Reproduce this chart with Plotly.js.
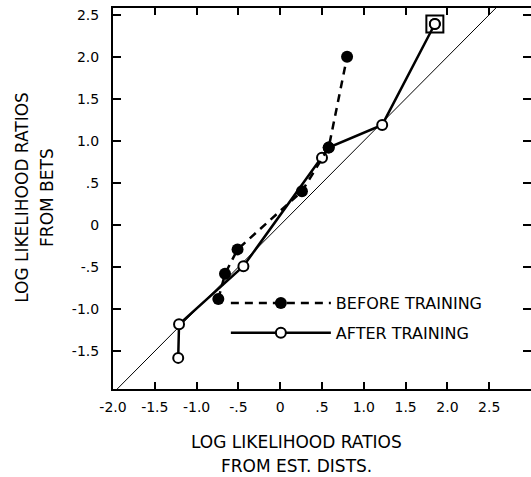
<!DOCTYPE html>
<html>
<head>
<meta charset="utf-8">
<script src="https://cdn.plot.ly/plotly-3.0.1.min.js"></script>
<style>html,body{margin:0;padding:0;background:#fff;}#chart{width:531px;height:477px;}</style>
</head>
<body>
<div id="chart"></div>
<script>
// Data
const beforeX = [-0.74, -0.66, -0.51, 0.26, 0.58, 0.80];
const beforeY = [-0.88, -0.58, -0.29, 0.40, 0.92, 2.00];
const afterX = [-1.22, -1.21, -0.44, 0.50, 0.58, 1.22, 1.85];
const afterY = [-1.58, -1.18, -0.49, 0.80, 0.92, 1.19, 2.39];
const identityX = [-2, 3];
const identityY = [-2, 3];
const xTickVals = [-2.0, -1.5, -1.0, -0.5, 0, 0.5, 1.0, 1.5, 2.0, 2.5];
const xTickText = ["-2.0", "-1.5", "-1.0", "-.5", "0", ".5", "1.0", "1.5", "2.0", "2.5"];
const yTickVals = [2.5, 2.0, 1.5, 1.0, 0.5, 0, -0.5, -1.0, -1.5];
const yTickText = ["2.5", "2.0", "1.5", "1.0", ".5", "0", "-.5", "-1.0", "-1.5"];

const FONT = "DejaVu Sans, sans-serif";
const last = afterX.length - 1;

const traces = [
  {x: identityX, y: identityY, mode: "lines", line: {color: "#000", width: 1}, showlegend: false, hoverinfo: "skip"},
  {x: afterX, y: afterY, mode: "lines+markers", name: "AFTER TRAINING", legendrank: 2, legendgroup: "a",
   line: {color: "#000", width: 2.5},
   marker: {symbol: "circle", size: 10, color: "#fff", line: {color: "#000", width: 2}}},
  {x: beforeX, y: beforeY, mode: "lines+markers", name: "BEFORE TRAINING", legendrank: 1, legendgroup: "b",
   line: {color: "#000", width: 2.5, dash: "8px,6px"},
   marker: {symbol: "circle", size: 12, color: "#000"}},
  {x: [afterX[last]], y: [afterY[last]], mode: "markers", showlegend: false,
   marker: {symbol: "square-open", size: 17, color: "#000", line: {color: "#000", width: 2}}},
  {x: [afterX[last]], y: [afterY[last]], mode: "markers", showlegend: false,
   marker: {symbol: "circle", size: 10, color: "#fff", line: {color: "#000", width: 2}}}
];

const layout = {
  width: 531, height: 477,
  margin: {l: 113, r: 0, t: 8, b: 88},
  paper_bgcolor: "#fff", plot_bgcolor: "#fff",
  font: {family: FONT, color: "#000", size: 14},
  showlegend: true,
  legend: {x: 0.27, y: 0.27, xanchor: "left", yanchor: "top", bgcolor: "rgba(0,0,0,0)",
           font: {family: FONT, size: 16, color: "#000"}, itemwidth: 100, tracegroupgap: 6},
  xaxis: {range: [-2, 3], tickvals: xTickVals, ticktext: xTickText, ticks: "inside", ticklen: 7,
          tickwidth: 2, tickcolor: "#000", showline: true, linecolor: "#000", linewidth: 2,
          mirror: "ticks", showgrid: false, zeroline: false, tickfont: {family: FONT, size: 14},
          ticklabelstandoff: 4},
  yaxis: {range: [-1.95, 2.58], tickvals: yTickVals, ticktext: yTickText, ticks: "inside", ticklen: 8,
          tickwidth: 2, tickcolor: "#000", showline: true, linecolor: "#000", linewidth: 2,
          mirror: "ticks", showgrid: false, zeroline: false, tickfont: {family: FONT, size: 14},
          ticklabelstandoff: 9},
  annotations: [
    {text: "LOG LIKELIHOOD RATIOS", xref: "paper", yref: "paper", x: 0.438, y: -0.138, showarrow: false,
     xanchor: "center", yanchor: "middle", font: {family: FONT, size: 17}},
    {text: "FROM EST. DISTS.", xref: "paper", yref: "paper", x: 0.438, y: -0.202, showarrow: false,
     xanchor: "center", yanchor: "middle", font: {family: FONT, size: 17}},
    {text: "LOG LIKELIHOOD RATIOS", xref: "paper", yref: "paper", x: -0.218, y: 0.504, showarrow: false,
     textangle: -90, xanchor: "center", yanchor: "middle", font: {family: FONT, size: 17}},
    {text: "FROM BETS", xref: "paper", yref: "paper", x: -0.158, y: 0.504, showarrow: false,
     textangle: -90, xanchor: "center", yanchor: "middle", font: {family: FONT, size: 17}}
  ]
};

Plotly.newPlot("chart", traces, layout, {displayModeBar: false, staticPlot: true});
</script>
</body>
</html>
